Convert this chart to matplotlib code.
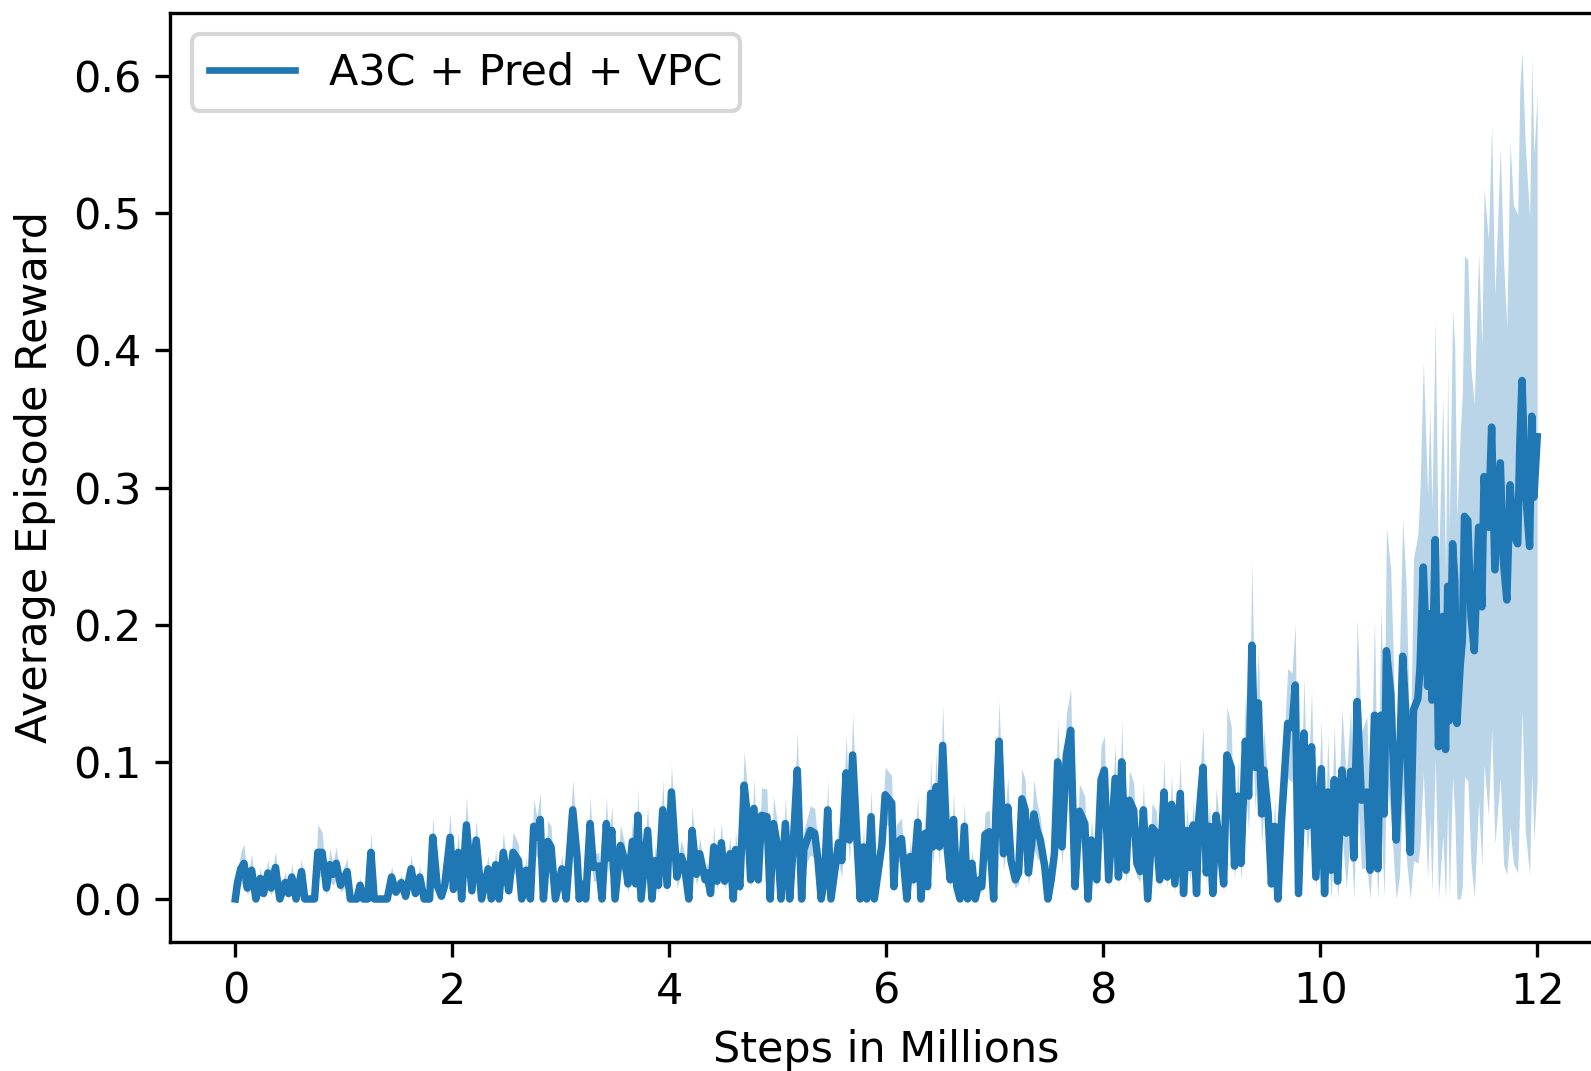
import numpy as np
import matplotlib
matplotlib.use("Agg")
import matplotlib.pyplot as plt

# ---- data (steps in millions, mean reward, half-width of band) ----
steps_a = [0.00,0.02,0.05,0.08,0.11,0.15,0.19,0.23,0.26,0.30,0.33,0.37,0.41,0.46,0.49,0.52,0.56,0.61,0.64,0.73,
           0.76,0.80,0.84,0.87,0.90,0.93,0.97,1.03,1.06,1.12,1.15,1.18,1.22,1.25,1.28,1.40,1.44,1.48,1.53,1.57,
           1.62,1.66,1.70,1.74,1.79,1.82,1.86,1.90,1.93,1.98]
mean_a = [0.0,0.012,0.022,0.026,0.008,0.021,0.0,0.015,0.004,0.019,0.008,0.023,0.0,0.012,0.004,0.016,0.0,0.02,0.0,0.0,
          0.034,0.034,0.008,0.025,0.018,0.026,0.01,0.02,0.0,0.0,0.01,0.0,0.0,0.034,0.0,0.0,0.016,0.005,0.012,0.002,
          0.022,0.004,0.016,0.0,0.0,0.045,0.01,0.002,0.01,0.045]
spread_a = [0.002,0.008,0.012,0.014,0.005,0.012,0.002,0.008,0.003,0.01,
            0.005,0.012,0.002,0.008,0.003,0.01,0.002,0.01,0.002,0.002,
            0.02,0.015,0.005,0.012,0.008,0.012,0.005,0.01,0.002,0.002,
            0.006,0.002,0.002,0.015,0.002,0.002,0.008,0.003,0.006,0.002,
            0.01,0.003,0.008,0.002,0.002,0.015,0.006,0.002,0.006,0.018]

steps_b = [2.01,2.055,2.086,2.13,2.18,2.22,2.27,2.33,2.36,2.40,2.43,2.47,2.52,2.56,2.61,2.64,2.68,2.72,2.75,2.78,
           2.81,2.84,2.88,2.91,2.95,3.01,3.05,3.11,3.15,3.17,3.19,3.23,3.27,3.30,3.35,3.38,3.42,3.44,3.47,3.50,
           3.55,3.59,3.62,3.66,3.69,3.71,3.74,3.80,3.84,3.87,3.90,3.94,3.98]
mean_b = [0.007,0.034,0.0,0.054,0.006,0.043,0.0,0.022,0.0,0.025,
          0.0,0.034,0.006,0.034,0.028,0.0,0.021,0.0,0.053,0.045,
          0.058,0.0,0.042,0.038,0.0,0.022,0.0,0.065,0.031,0.0,
          0.011,0.0,0.055,0.023,0.024,0.0,0.055,0.03,0.05,0.0,
          0.039,0.028,0.011,0.042,0.011,0.061,0.0,0.05,0.0,0.028,
          0.01,0.065,0.01]
spread_b = [0.004,0.015,0.003,0.02,0.004,0.015,0.003,0.01,0.003,0.012,
            0.003,0.015,0.004,0.015,0.012,0.003,0.01,0.003,0.02,0.015,
            0.02,0.003,0.015,0.015,0.003,0.01,0.003,0.022,0.012,0.003,
            0.006,0.003,0.02,0.01,0.01,0.003,0.02,0.012,0.018,0.003,
            0.015,0.012,0.006,0.015,0.006,0.02,0.003,0.018,0.003,0.012,
            0.006,0.022,0.006]

steps_c = [4.02,4.07,4.11,4.14,4.18,4.21,4.25,4.28,4.33,4.35,4.38,4.41,4.44,4.48,4.51,4.56,4.59,4.61,4.65,4.69,
           4.72,4.75,4.78,4.82,4.85,4.90,4.93,4.96,5.00,5.03,5.07,5.11,5.14,5.18,5.22,5.24,5.30,5.34,5.37,5.40,
           5.43,5.46,5.49,5.56,5.59,5.63,5.66,5.69,5.73,5.76,5.79,5.82,5.86,5.89,5.96]
mean_c = [0.078,0.016,0.031,0.024,0.0,0.05,0.018,0.033,0.014,0.019,
          0.004,0.038,0.013,0.041,0.013,0.033,0.0,0.036,0.009,0.083,
          0.06,0.014,0.066,0.014,0.061,0.06,0.0,0.055,0.038,0.0,
          0.055,0.0,0.036,0.094,0.0,0.036,0.05,0.048,0.029,0.0,
          0.014,0.065,0.0,0.041,0.028,0.092,0.043,0.105,0.043,0.0,
          0.038,0.0,0.06,0.0,0.04]
spread_c = [0.02,0.008,0.012,0.01,0.004,0.018,0.008,0.012,0.006,0.008,
            0.004,0.015,0.006,0.015,0.006,0.012,0.004,0.014,0.005,0.025,
            0.02,0.006,0.022,0.006,0.02,0.02,0.004,0.02,0.015,0.004,
            0.02,0.004,0.014,0.028,0.004,0.014,0.018,0.018,0.012,0.004,
            0.006,0.022,0.004,0.015,0.012,0.028,0.016,0.03,0.016,0.004,
            0.015,0.004,0.02,0.004,0.015]

steps_d = [5.99,6.05,6.07,6.09,6.14,6.19,6.22,6.25,6.29,6.32,
           6.36,6.38,6.41,6.43,6.46,6.49,6.52,6.56,6.59,6.62,
           6.65,6.68,6.72,6.75,6.79,6.82,6.86,6.88,6.91,6.95,
           6.99,7.01,7.04,7.08,7.12,7.15,7.19,7.22,7.25,7.28,
           7.31,7.34,7.36,7.39,7.42,7.46,7.49,7.52,7.55,7.58,
           7.62,7.66,7.70,7.74,7.78,7.83,7.86,7.89,7.94,7.98,
           8.01,8.05]
mean_d = [0.076,0.07,0.009,0.04,0.044,0.0,0.031,0.014,0.056,0.0,
          0.048,0.009,0.077,0.038,0.082,0.038,0.112,0.038,0.014,0.058,
          0.009,0.0,0.053,0.0,0.026,0.0,0.014,0.009,0.047,0.049,
          0.0,0.062,0.115,0.033,0.067,0.028,0.014,0.019,0.073,0.065,
          0.019,0.04,0.062,0.05,0.043,0.024,0.0,0.014,0.033,0.1,
          0.038,0.105,0.123,0.009,0.064,0.055,0.0,0.043,0.014,0.087,
          0.094,0.014]
spread_d = [0.02,0.02,0.005,0.014,0.015,0.004,0.012,0.006,0.02,0.004,
            0.018,0.005,0.025,0.014,0.025,0.014,0.03,0.014,0.006,0.02,
            0.005,0.004,0.018,0.004,0.01,0.004,0.006,0.005,0.016,0.016,
            0.004,0.02,0.03,0.012,0.022,0.012,0.006,0.008,0.022,0.022,
            0.008,0.015,0.025,0.02,0.016,0.01,0.004,0.006,0.012,0.03,
            0.014,0.03,0.03,0.005,0.02,0.02,0.004,0.015,0.006,0.025,
            0.025,0.006]

steps_e = [8.11,8.14,8.17,8.21,8.24,8.28,8.31,8.34,8.37,8.41,
           8.45,8.49,8.52,8.56,8.59,8.63,8.66,8.71,8.74,8.77,
           8.80,8.83,8.86,8.88,8.92,8.95,8.98,9.01,9.04,9.08,
           9.11,9.14,9.18,9.21,9.24,9.27,9.31,9.34,9.37,9.40,
           9.43,9.46,9.48,9.52,9.55,9.58,9.61,9.64,9.70,9.74,
           9.77,9.80,9.85,9.88,9.92,9.96,10.01]
mean_e = [0.088,0.016,0.1,0.021,0.072,0.065,0.026,0.02,0.065,0.0,
          0.052,0.048,0.014,0.078,0.016,0.069,0.011,0.077,0.004,0.05,
          0.023,0.054,0.004,0.058,0.096,0.019,0.053,0.004,0.061,0.036,
          0.011,0.105,0.096,0.024,0.075,0.026,0.115,0.075,0.185,0.096,
          0.143,0.062,0.094,0.062,0.011,0.053,0.0,0.053,0.128,0.125,
          0.156,0.004,0.121,0.053,0.111,0.016,0.095]
spread_e = [0.025,0.008,0.03,0.01,0.022,0.02,0.01,0.008,0.02,0.004,
            0.018,0.016,0.006,0.025,0.008,0.022,0.006,0.025,0.004,0.018,
            0.01,0.018,0.004,0.02,0.03,0.008,0.018,0.004,0.02,0.014,
            0.006,0.035,0.03,0.01,0.025,0.012,0.035,0.025,0.06,0.03,
            0.04,0.022,0.03,0.022,0.006,0.02,0.004,0.02,0.04,0.04,
            0.045,0.004,0.04,0.02,0.04,0.008,0.035]

steps_f = [10.04,10.07,10.10,10.13,10.16,10.20,10.24,10.28,10.31,10.34,
           10.38,10.43,10.46,10.50,10.53,10.56,10.59,10.61,10.65,10.70,
           10.73,10.76,10.79,10.83,10.86,10.90,10.92,10.95,10.99,11.01,
           11.03,11.06,11.09,11.13,11.155,11.175,11.19,11.22,11.24,11.26,
           11.29,11.31,11.33,11.36,11.39,11.42,11.46,11.49,11.51,11.55,
           11.58,11.61,11.66,11.69,11.72,11.75,11.78,11.82,11.84,11.86,
           11.89,11.93,11.95,11.97,12.0]
mean_f = [0.004,0.078,0.021,0.087,0.013,0.094,0.048,0.093,0.03,0.144,
          0.072,0.078,0.021,0.134,0.022,0.134,0.062,0.181,0.15,0.043,
          0.096,0.177,0.133,0.034,0.138,0.146,0.169,0.242,0.155,0.208,
          0.145,0.262,0.111,0.206,0.109,0.228,0.13,0.259,0.232,0.128,
          0.17,0.189,0.279,0.276,0.206,0.181,0.271,0.213,0.308,0.271,
          0.344,0.24,0.318,0.245,0.218,0.302,0.266,0.259,0.332,0.378,
          0.3,0.257,0.352,0.293,0.337]
spread_f = [0.03,0.04,0.03,0.04,0.03,0.045,0.04,0.045,0.035,0.06,
            0.05,0.055,0.04,0.07,0.04,0.08,0.06,0.09,0.09,0.06,
            0.08,0.1,0.1,0.07,0.11,0.12,0.13,0.15,0.14,0.15,
            0.14,0.16,0.13,0.16,0.13,0.16,0.14,0.17,0.17,0.15,
            0.17,0.18,0.19,0.19,0.18,0.18,0.2,0.19,0.21,0.21,
            0.22,0.2,0.23,0.22,0.2,0.25,0.24,0.24,0.26,0.24,
            0.25,0.24,0.26,0.25,0.25]

label = "A3C + Pred + VPC"
x_label = "Steps in Millions"
y_label = "Average Episode Reward"

# ---- assemble ----
steps = np.array(steps_a + steps_b + steps_c + steps_d + steps_e + steps_f)
mean = np.array(mean_a + mean_b + mean_c + mean_d + mean_e + mean_f)
spread = np.array(spread_a + spread_b + spread_c + spread_d + spread_e + spread_f)
n = min(len(steps), len(mean), len(spread))
steps, mean, spread = steps[:n], mean[:n], spread[:n]
lower = np.clip(mean - spread, 0, None)
upper = mean + spread

plt.rcParams["font.size"] = 10.3

W, H, DPI = 1591, 1071, 300
fig = plt.figure(figsize=(W / DPI, H / DPI), dpi=DPI)
ax = fig.add_axes([0.1070, 0.1209, 0.9001, 0.8670])

ax.fill_between(steps, lower, upper, color="C0", alpha=0.3, linewidth=0)
ax.plot(steps, mean, color="C0", lw=1.8, label=label)

ax.set_xlim(-0.6, 12.6)
ax.set_ylim(-0.031, 0.646)
ax.set_xticks(np.arange(0, 13, 2))
ax.set_yticks(np.arange(0, 0.61, 0.1))
ax.set_xlabel(x_label)
ax.set_ylabel(y_label)
leg = ax.legend(loc="upper left")
for line in leg.get_lines():
    line.set_linewidth(1.6)

fig.savefig("out.png", dpi=DPI)
